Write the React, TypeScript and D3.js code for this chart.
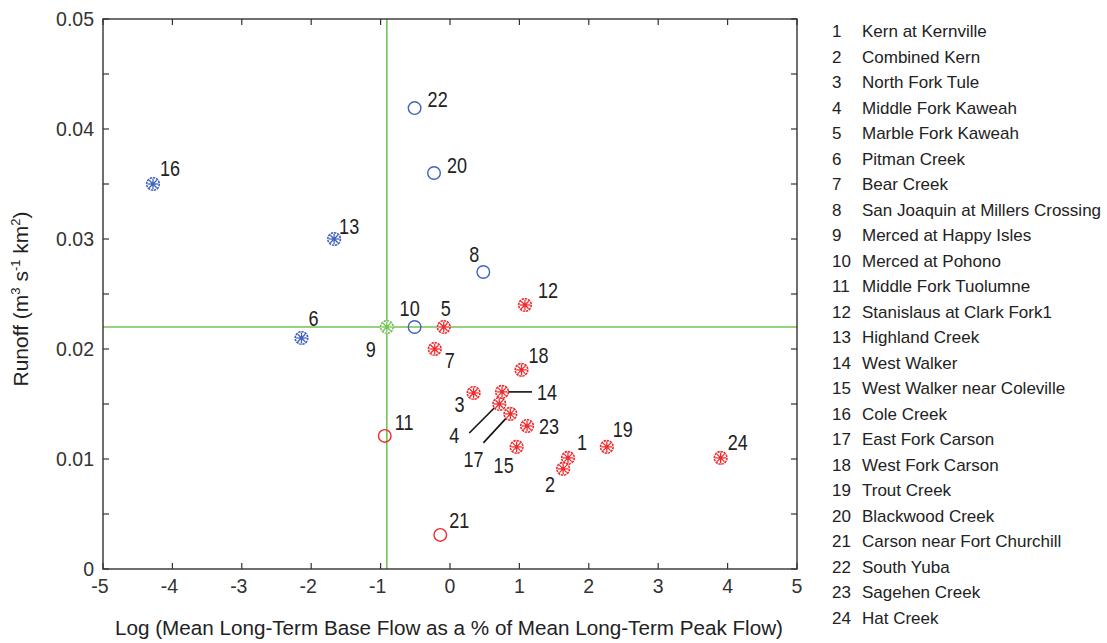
import React from 'react';
import * as d3 from 'd3';

// Site numbers and names shown in the list on the right
const siteIds = [1, 2, 3, 4, 5, 6, 7, 8, 9, 10, 11, 12, 13, 14, 15, 16, 17, 18, 19, 20, 21, 22, 23, 24];
const siteNames = [
  'Kern at Kernville', 'Combined Kern', 'North Fork Tule', 'Middle Fork Kaweah', 'Marble Fork Kaweah',
  'Pitman Creek', 'Bear Creek', 'San Joaquin at Millers Crossing', 'Merced at Happy Isles', 'Merced at Pohono',
  'Middle Fork Tuolumne', 'Stanislaus at Clark Fork1', 'Highland Creek', 'West Walker', 'West Walker near Coleville',
  'Cole Creek', 'East Fork Carson', 'West Fork Carson', 'Trout Creek', 'Blackwood  Creek',
  'Carson near Fort Churchill', 'South Yuba', 'Sagehen Creek', 'Hat Creek',
];
// log(base flow % of peak flow), per site
const baseFlowLog = [1.70, 1.63, 0.34, 0.71, -0.09, -2.14, -0.22, 0.48, -0.91, -0.51, -0.94, 1.08,
  -1.67, 0.75, 0.96, -4.28, 0.87, 1.03, 2.26, -0.23, -0.14, -0.51, 1.11, 3.90];
// runoff (m3 s-1 km2), per site
const runoff = [0.0101, 0.0091, 0.0160, 0.0150, 0.0220, 0.0210, 0.0200, 0.0270, 0.0220, 0.0220, 0.0121, 0.0240,
  0.0300, 0.0161, 0.0111, 0.0350, 0.0141, 0.0181, 0.0111, 0.0360, 0.0031, 0.0419, 0.0130, 0.0101];
// marker group: r = red, b = blue, g = green
const siteGroup = ['r', 'r', 'r', 'r', 'r', 'b', 'r', 'b', 'g', 'b', 'r', 'r',
  'b', 'r', 'r', 'b', 'r', 'r', 'r', 'b', 'r', 'b', 'r', 'r'];
// star marker (true) or open circle (false)
const siteStar = [true, true, true, true, true, true, true, false, true, false, false, true,
  true, true, true, true, true, true, true, false, false, false, true, true];

// reference lines
const refX = -0.91;
const refY = 0.022;

const xTicks = [-5, -4, -3, -2, -1, 0, 1, 2, 3, 4, 5];
const yTicks = [0, 0.01, 0.02, 0.03, 0.04, 0.05];
const yMinorTicks = [0.005, 0.015, 0.025, 0.035, 0.045];

// label placement (text start / baseline relative to marker), by site id
const labelOffset: Record<number, [number, number]> = {
  1: [9, -8], 2: [-18, 23], 3: [-19, 19], 4: [-50, 39], 5: [-3, -11], 6: [7, -12],
  7: [10, 19], 8: [-14, -10], 9: [-21, 30], 10: [-15, -11], 11: [10, -6], 12: [13, -7],
  13: [5, -5], 14: [35, 8], 15: [-23, 26], 16: [7, -8], 17: [-47, 53], 18: [7, -7],
  19: [6, -10], 20: [13, 0], 21: [9, -7], 22: [13, -1], 23: [12, 8], 24: [7, -8],
};
const leaders: Record<number, [number, number, number, number]> = {
  14: [3, 0, 30, 0],
  4: [-3, 2, -30, 29],
  17: [-3, 3, -27, 29],
};

const colors: Record<string, string> = { r: '#ee2b2e', b: '#4263bd', g: '#72c256' };
const FONT = "'Liberation Sans', Arial, Helvetica, sans-serif";

const W = 1107;
const H = 643;
const plot = { left: 103, right: 797, top: 19, bottom: 569 };

function Star({ x, y, color }: { x: number; y: number; color: string }) {
  const r = 6.3;
  const spokes = d3.range(8).map((i) => (i * Math.PI) / 4);
  return (
    <g transform={`translate(${x},${y})`}>
      <circle r={r} fill="white" stroke={color} strokeWidth={1.6} strokeDasharray="2.4 0.8" />
      {spokes.map((a, i) => (
        <line key={i} x1={0} y1={0} x2={Math.cos(a) * (r - 1)} y2={Math.sin(a) * (r - 1)}
          stroke={color} strokeWidth={1.3} />
      ))}
      <circle r={1.8} fill={color} />
    </g>
  );
}

export default function App() {
  const x = d3.scaleLinear().domain([-5, 5]).range([plot.left, plot.right]);
  const y = d3.scaleLinear().domain([0, 0.05]).range([plot.bottom, plot.top]);
  const tickLen = 6;
  const axisColor = '#333';

  return (
    <svg width={W} height={H} style={{ position: 'absolute', left: 0, top: 0, background: 'white' }}
      fontFamily={FONT}>
      {/* reference lines */}
      <line x1={x(refX)} x2={x(refX)} y1={plot.top} y2={plot.bottom} stroke={colors.g} strokeWidth={1.6} />
      <line x1={plot.left} x2={plot.right} y1={y(refY)} y2={y(refY)} stroke={colors.g} strokeWidth={1.6} />

      {/* frame */}
      <rect x={plot.left} y={plot.top} width={plot.right - plot.left} height={plot.bottom - plot.top}
        fill="none" stroke={axisColor} strokeWidth={1.4} />

      {/* x ticks */}
      {xTicks.map((t) => (
        <g key={`x${t}`}>
          <line x1={x(t)} x2={x(t)} y1={plot.bottom} y2={plot.bottom - tickLen} stroke={axisColor} strokeWidth={1.2} />
          <line x1={x(t)} x2={x(t)} y1={plot.top} y2={plot.top + tickLen} stroke={axisColor} strokeWidth={1.2} />
          <text x={x(t) - (t < 0 ? 3 : 0)} y={plot.bottom + 24} textAnchor="middle" fontSize={19.5} fill="#333">
            {t}
          </text>
        </g>
      ))}

      {/* y ticks */}
      {yTicks.concat(yMinorTicks).map((t) => (
        <g key={`y${t}`}>
          <line x1={plot.left} x2={plot.left + tickLen} y1={y(t)} y2={y(t)} stroke={axisColor} strokeWidth={1.2} />
          <line x1={plot.right} x2={plot.right - tickLen} y1={y(t)} y2={y(t)} stroke={axisColor} strokeWidth={1.2} />
        </g>
      ))}
      {yTicks.map((t) => (
        <text key={`yl${t}`} x={plot.left - 9} y={y(t) + 7} textAnchor="end" fontSize={19.5} fill="#333">
          {t === 0 ? '0' : d3.format('.2f')(t)}
        </text>
      ))}

      {/* axis titles */}
      <text x={449} y={635} textAnchor="middle" fontSize={20.5} fill="#222" textLength={668} lengthAdjust="spacingAndGlyphs">
        Log (Mean Long-Term Base Flow as a % of Mean Long-Term Peak Flow)
      </text>
      <text transform="translate(28,299) rotate(-90)" textAnchor="middle" fontSize={21} fill="#222">
        Runoff (m<tspan fontSize={13} dy={-8}>3</tspan>
        <tspan dy={8}> s</tspan><tspan fontSize={13} dy={-8}>-1</tspan>
        <tspan dy={8}> km</tspan><tspan fontSize={13} dy={-8}>2</tspan>
        <tspan dy={8}>)</tspan>
      </text>

      {/* leader lines */}
      {siteIds.filter((id) => leaders[id]).map((id) => {
        const i = id - 1;
        const [x1, y1, x2, y2] = leaders[id];
        const px = x(baseFlowLog[i]);
        const py = y(runoff[i]);
        return <line key={`ld${id}`} x1={px + x1} y1={py + y1} x2={px + x2} y2={py + y2} stroke="#111" strokeWidth={1.6} />;
      })}

      {/* markers */}
      {siteIds.map((id, i) => {
        const px = x(baseFlowLog[i]);
        const py = y(runoff[i]);
        const c = colors[siteGroup[i]];
        return siteStar[i]
          ? <Star key={`m${id}`} x={px} y={py} color={c} />
          : <circle key={`m${id}`} cx={px} cy={py} r={6.3} fill="none" stroke={c} strokeWidth={1.4} />;
      })}

      {/* point labels (condensed) */}
      {siteIds.map((id, i) => {
        const [dx, dy] = labelOffset[id];
        return (
          <text key={`t${id}`} transform={`translate(${x(baseFlowLog[i]) + dx},${y(runoff[i]) + dy}) scale(0.82,1)`}
            fontSize={22} fill="#222">
            {id}
          </text>
        );
      })}

      {/* site list */}
      {siteIds.map((id, i) => (
        <g key={`lg${id}`} transform={`translate(832,${37 + i * 25.5})`}>
          <text x={0} y={0} fontSize={17} fill="#222">{id}</text>
          <text x={30} y={0} fontSize={17} fill="#222">{siteNames[i]}</text>
        </g>
      ))}
    </svg>
  );
}
